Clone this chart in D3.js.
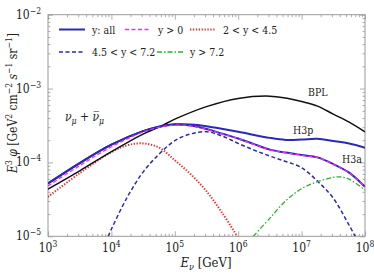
<!DOCTYPE html>
<html><head><meta charset="utf-8">
<script src="https://cdn.jsdelivr.net/npm/d3@7"></script>
<style>
html,body{margin:0;padding:0;background:#fff;}
</style></head>
<body><svg id="c" width="374" height="275"></svg>
<script>
// ---- data ----
const xTicks = [1e3,1e4,1e5,1e6,1e7,1e8];
const xTickExp = ["3","4","5","6","7","8"];
const yTicks = [1e-5,1e-4,1e-3,1e-2];
const yTickExp = ["\u22125","\u22124","\u22123","\u22122"];

const bplE = [1e3,3.16e3,1e4,3.16e4,5.62e4,1e5,3.16e5,1e6,3.16e6,5.62e6,1e7,1.78e7,3.16e7,5.62e7,1e8];
const bplF = [4.35e-5,7.7e-5,1.40e-4,2.42e-4,3.0e-4,3.85e-4,5.70e-4,7.36e-4,7.9e-4,7.43e-4,6.67e-4,5.79e-4,4.51e-4,3.52e-4,2.60e-4];

const h3pE = [1e3,3.16e3,1e4,3.16e4,5.62e4,1e5,1.78e5,3.16e5,1e6,3.16e6,5.62e6,1e7,1.78e7,3.16e7,5.62e7,1e8];
const h3pF = [5.19e-5,9.8e-5,1.74e-4,2.65e-4,3.05e-4,3.28e-4,3.27e-4,3.10e-4,2.60e-4,2.15e-4,2.02e-4,2.04e-4,2.09e-4,1.95e-4,1.80e-4,1.58e-4];

const h3aE = [1e3,3.16e3,1e4,3.16e4,5.62e4,1e5,1.78e5,3.16e5,5.62e5,1e6,1.78e6,3.16e6,5.62e6,1e7,1.78e7,3.16e7,5.62e7,1e8];
const h3aAll = [5.19e-5,9.8e-5,1.74e-4,2.65e-4,3.05e-4,3.26e-4,3.16e-4,2.84e-4,2.45e-4,2.11e-4,1.77e-4,1.49e-4,1.36e-4,1.26e-4,1.17e-4,9.5e-5,7.28e-5,4.67e-5];
const h3aPos = [4.82e-5,9.06e-5,1.63e-4,2.58e-4,2.98e-4,3.20e-4,3.13e-4,2.82e-4,2.43e-4,2.10e-4,1.76e-4,1.48e-4,1.35e-4,1.25e-4,1.16e-4,9.45e-5,7.25e-5,4.65e-5];

const redE = [1e3,3.16e3,1e4,1.78e4,3.16e4,5.62e4,1e5,1.78e5,3.16e5,5.62e5,1e6];
const redF = [3.42e-5,7.16e-5,1.38e-4,1.71e-4,1.81e-4,1.59e-4,1.07e-4,6.93e-5,4.08e-5,2.06e-5,9.5e-6];

const bdE = [8.9e3,1e4,1.78e4,3.16e4,5.62e4,1e5,1.78e5,3.16e5,5.62e5,1e6,1.78e6,3.16e6,5.62e6,1e7,1.78e7,3.16e7,5.62e7,7e7];
const bdF = [1e-5,1.25e-5,3.39e-5,7.40e-5,1.29e-4,1.97e-4,2.43e-4,2.61e-4,2.27e-4,1.81e-4,1.47e-4,1.22e-4,1.03e-4,8.5e-5,5.58e-5,3.28e-5,1.41e-5,1e-5];

const grE = [1.73e6,3.16e6,5.62e6,1e7,1.78e7,3.16e7,4e7,5.62e7,1e8];
const grF = [1e-5,1.76e-5,3.03e-5,4.42e-5,5.50e-5,6.27e-5,6.38e-5,5.94e-5,4.22e-5];

const legendLabels = ["y: all","y > 0","2 < y < 4.5","4.5 < y < 7.2","y > 7.2"];

// ---- layout ----
const L=48, R=365, T=14.7, B=236.3;
const svg = d3.select("#c");
const x = d3.scaleLog().domain([1e3,1e8]).range([L,R]);
const y = d3.scaleLog().domain([1e-5,1e-2]).range([B,T]);

const BLUE="#2a2ab4", MAG="#ff22ff", RED="#dd3030", GREEN="#28b428", FRAME="#999";
const FONT = "'DejaVu Serif Condensed','DejaVu Serif'";

svg.append("defs").append("clipPath").attr("id","clip")
  .append("rect").attr("x",L).attr("y",T).attr("width",R-L).attr("height",B-T);

function minors(lo,hi){const a=[];for(let d=lo;d<hi;d*=10)for(let k=2;k<=9;k++)a.push(d*k);return a;}
const xMin = minors(1e3,1e8), yMin = minors(1e-5,1e-2);

function axisG(gen, tr){ const g=svg.append("g").attr("transform",tr).call(gen);
  g.selectAll("path.domain").remove(); g.selectAll("text").remove();
  g.selectAll("line").attr("stroke",FRAME).attr("stroke-width",0.8); return g;}
axisG(d3.axisBottom(x).tickValues(xTicks).tickSize(-5), `translate(0,${B})`);
axisG(d3.axisBottom(x).tickValues(xMin).tickSize(-2.5), `translate(0,${B})`);
axisG(d3.axisTop(x).tickValues(xTicks).tickSize(-5), `translate(0,${T})`);
axisG(d3.axisTop(x).tickValues(xMin).tickSize(-2.5), `translate(0,${T})`);
axisG(d3.axisLeft(y).tickValues(yTicks).tickSize(-5), `translate(${L},0)`);
axisG(d3.axisLeft(y).tickValues(yMin).tickSize(-2.5), `translate(${L},0)`);
axisG(d3.axisRight(y).tickValues(yTicks).tickSize(-5), `translate(${R},0)`);
axisG(d3.axisRight(y).tickValues(yMin).tickSize(-2.5), `translate(${R},0)`);

svg.append("rect").attr("x",L).attr("y",T).attr("width",R-L).attr("height",B-T)
  .attr("fill","none").attr("stroke",FRAME).attr("stroke-width",1);

function txt(xx,yy,size){return svg.append("text").attr("x",xx).attr("y",yy)
  .style("font-family",FONT).style("font-stretch","condensed").attr("font-size",size).attr("fill","#222");}

xTicks.forEach((v,i)=>{
  const t=txt(x(v),252,12).attr("text-anchor","middle");
  t.append("tspan").text("10");
  t.append("tspan").attr("dy",-5).attr("font-size",8.5).text(xTickExp[i]);
});
yTicks.forEach((v,i)=>{
  const t=txt(41,y(v)+4,12).attr("text-anchor","end");
  t.append("tspan").text("10");
  t.append("tspan").attr("dy",-5).attr("font-size",8.5).text(yTickExp[i]);
});

const line = d3.line().x(d=>x(d[0])).y(d=>y(d[1])).curve(d3.curveCatmullRom.alpha(0.5));
const plot = svg.append("g").attr("clip-path","url(#clip)");
function draw(E,F,color,w,dash){
  plot.append("path").datum(E.map((e,i)=>[e,F[i]])).attr("d",line)
    .attr("fill","none").attr("stroke",color).attr("stroke-width",w)
    .attr("stroke-dasharray",dash||null).attr("stroke-linejoin","round");
}
draw(redE,redF,RED,2,"1.3,1.6");
draw(bdE,bdF,BLUE,1.5,"4,2.5");
draw(grE,grF,GREEN,1.3,"5,2,1.5,2");
draw(bplE,bplF,"#111",1.5);
draw(h3pE,h3pF,BLUE,2);
draw(h3aE,h3aAll,BLUE,2);
draw(h3aE,h3aPos,MAG,1.3,"4,2.5");

txt(308,96,10.5).text("BPL");
txt(293,134,10.5).text("H3p");
txt(342,163,10.5).text("H3a");

const nu = txt(65,121,12);
nu.append("tspan").attr("font-style","italic").text("\u03bd");
nu.append("tspan").attr("font-style","italic").attr("font-size",8.5).attr("dy",3).text("\u03bc");
nu.append("tspan").attr("dy",-3).text(" + ");
nu.append("tspan").attr("font-style","italic").text("\u03bd\u0305");
nu.append("tspan").attr("font-style","italic").attr("font-size",8.5).attr("dy",3).text("\u03bc");

const legItems = [
  {x:59,y:29.5,c:BLUE,w:2,d:null},
  {x:125,y:29.5,c:MAG,w:1.3,d:"4,2.5"},
  {x:190,y:29.5,c:RED,w:2,d:"1.3,1.6"},
  {x:59,y:52,c:BLUE,w:1.5,d:"4,2.5"},
  {x:157,y:52,c:GREEN,w:1.3,d:"5,2,1.5,2"}
];
legItems.forEach((it,i)=>{
  svg.append("line").attr("x1",it.x).attr("x2",it.x+26).attr("y1",it.y).attr("y2",it.y)
    .attr("stroke",it.c).attr("stroke-width",it.w).attr("stroke-dasharray",it.d);
  txt(it.x+33,it.y+4,10.5).text(legendLabels[i]);
});

const xl = txt(206,267,13).attr("text-anchor","middle");
xl.append("tspan").attr("font-style","italic").text("E");
xl.append("tspan").attr("font-style","italic").attr("font-size",9).attr("dy",3).text("\u03bd");
xl.append("tspan").attr("dy",-3).text("  [GeV]");

const yl = svg.append("text").attr("transform","translate(17,103) rotate(-90)").attr("text-anchor","middle")
  .style("font-family",FONT).style("font-stretch","condensed").attr("font-size",12).attr("fill","#222");
yl.append("tspan").attr("font-style","italic").text("E");
yl.append("tspan").attr("font-size",8.5).attr("dy",-5).text("3");
yl.append("tspan").attr("dy",5).attr("font-style","italic").text(" \u03c6");
yl.append("tspan").text(" [GeV");
yl.append("tspan").attr("font-size",8.5).attr("dy",-5).text("2");
yl.append("tspan").attr("dy",5).text(" cm");
yl.append("tspan").attr("font-size",8.5).attr("dy",-5).text("\u22122");
yl.append("tspan").attr("dy",5).attr("font-style","italic").text(" s");
yl.append("tspan").attr("font-size",8.5).attr("dy",-5).text("\u22121");
yl.append("tspan").attr("dy",5).text(" sr");
yl.append("tspan").attr("font-size",8.5).attr("dy",-5).text("\u22121");
yl.append("tspan").attr("dy",5).text("]");
</script></body></html>
